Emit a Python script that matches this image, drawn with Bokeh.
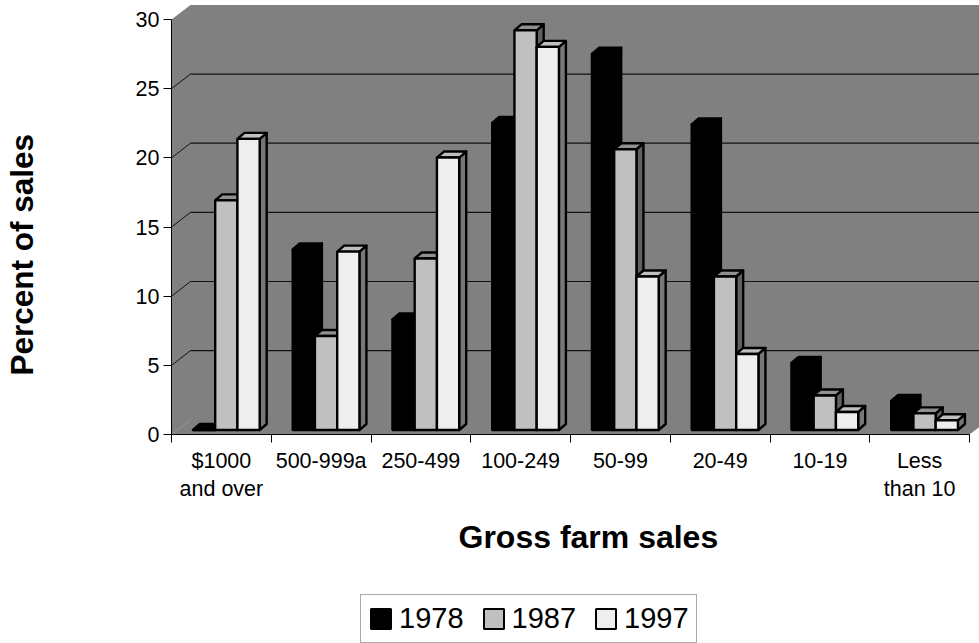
from bokeh.embed import file_html
from bokeh.layouts import column
from bokeh.models import FixedTicker, Legend, LegendItem, LinearAxis, Range1d, Title
from bokeh.plotting import figure
from bokeh.resources import INLINE

# Gross farm sales classes and share of sales (percent) by census year
categories = ["$1000\nand over", "500-999a", "250-499", "100-249", "50-99", "20-49", "10-19", "Less\nthan 10"]
sales_1978 = [0.0, 13.05, 8.0, 22.2, 27.2, 22.1, 4.85, 2.1]
sales_1987 = [16.6, 6.8, 12.4, 28.9, 20.3, 11.1, 2.5, 1.2]
sales_1997 = [21.05, 12.9, 19.7, 27.7, 11.1, 5.5, 1.3, 0.7]
y_ticks = [0, 5, 10, 15, 20, 25, 30]
series_names = ["1978", "1987", "1997"]
series_fronts = ["#000000", "#c0c0c0", "#eeeeee"]

FONT = "Liberation Sans"
FRAME_W, FRAME_H = 808, 430
UNIT_X, UNIT_Y = 99.75, 13.83          # pixels per category, pixels per percent
WALL_DX, WALL_DY = 19 / UNIT_X, 14.7 / UNIT_Y   # oblique offset of the back wall
BAR_DX, BAR_DY = 7 / UNIT_X, 6 / UNIT_Y         # oblique depth of a bar
BAR_BASE = 4.5 / UNIT_Y                # bars stand slightly behind the front edge
GROUP_LEFT, BAR_W = 0.215, 0.223
CHART_H, LEGEND_H = 590, 53
OUTLINE = 2.4

p = figure(
    width=979, height=CHART_H, output_backend="svg", toolbar_location=None,
    x_range=Range1d(0, FRAME_W / UNIT_X), y_range=Range1d(0, FRAME_H / UNIT_Y),
    frame_width=FRAME_W, frame_height=FRAME_H,
    min_border_left=171, min_border_right=0, min_border_top=4, min_border_bottom=156,
    x_axis_type=None, y_axis_type=None,
)
p.grid.visible = False
p.outline_line_color = None
p.background_fill_color = "white"
p.border_fill_color = "white"

n = len(categories)
top = y_ticks[-1]

# Back wall and floor seen in oblique projection
p.patch(
    [0, 0, WALL_DX, n + WALL_DX, n + WALL_DX, n],
    [0, top, top + WALL_DY, top + WALL_DY, WALL_DY, 0],
    fill_color="#808080", line_color=None,
)
p.segment([0], [0], [WALL_DX], [WALL_DY], line_color="#969696", line_width=1)

# Gridlines: a slanted stub on the side wall, then along the back wall
inner = y_ticks[1:-1]
p.segment([0] * len(inner), inner, [WALL_DX] * len(inner), [v + WALL_DY for v in inner],
          line_color="#111111", line_width=1)
p.segment([WALL_DX] * len(inner), [v + WALL_DY for v in inner],
          [n + WALL_DX] * len(inner), [v + WALL_DY for v in inner],
          line_color="#111111", line_width=1.2)


def draw_series(values, slot, front, roof, side):
    lefts = [i + GROUP_LEFT + slot * BAR_W for i in range(n)]
    rights = [x + BAR_W for x in lefts]
    tops = [BAR_BASE + v for v in values]
    bases = [BAR_BASE] * n
    p.patches(
        [[r, r + BAR_DX, r + BAR_DX, r] for r in rights],
        [[b, b + BAR_DY, t + BAR_DY, t] for b, t in zip(bases, tops)],
        fill_color=side, line_color="black", line_width=OUTLINE, line_join="round",
    )
    p.patches(
        [[l, l + BAR_DX, r + BAR_DX, r] for l, r in zip(lefts, rights)],
        [[t, t + BAR_DY, t + BAR_DY, t] for t in tops],
        fill_color=roof, line_color="black", line_width=OUTLINE, line_join="round",
    )
    p.quad(
        left=lefts, right=rights, bottom=bases, top=tops,
        fill_color=front, line_color="black", line_width=OUTLINE,
    )


draw_series(sales_1978, 0, series_fronts[0], "#000000", "#000000")
draw_series(sales_1987, 1, series_fronts[1], "#909090", "#606060")
draw_series(sales_1997, 2, series_fronts[2], "#c0c0c0", "#777777")

# Value axis
y_axis = LinearAxis(
    ticker=FixedTicker(ticks=y_ticks), bounds=(0, top),
    major_label_text_font=FONT, major_label_text_font_size="21.5px", major_label_text_color="black",
    major_label_standoff=4,
    major_tick_in=0, major_tick_out=8, minor_tick_in=0, minor_tick_out=0,
    major_tick_line_color="black", axis_line_color="black",
)
p.add_layout(y_axis, "left")

# Category axis: ticks mark the class boundaries, labels sit between them
centers = [i + 0.5 for i in range(n)]
x_axis = LinearAxis(
    ticker=FixedTicker(ticks=centers, minor_ticks=list(range(n + 1))), bounds=(0, n),
    major_label_overrides={c: label for c, label in zip(centers, categories)},
    major_label_text_font=FONT, major_label_text_font_size="21.5px", major_label_text_color="black",
    major_label_standoff=6, major_label_orientation="horizontal",
    major_tick_in=0, major_tick_out=0, minor_tick_in=0, minor_tick_out=8,
    minor_tick_line_color="black", axis_line_color="black",
)
p.add_layout(x_axis, "below")

# Blank title that only reserves room between the value labels and the axis title
p.add_layout(Title(text=" ", standoff=90, text_font_size="1px"), "left")

# Axis titles sit off-centre relative to the plotting frame
y_title = Title(text="Percent of sales", align="left", offset=59, standoff=0,
                text_font=FONT, text_font_size="31.5px", text_font_style="bold", text_color="black")
p.add_layout(y_title, "left")
x_title = Title(text="Gross farm sales", align="left", offset=287, standoff=24,
                text_font=FONT, text_font_size="32px", text_font_style="bold", text_color="black")
p.add_layout(x_title, "below")

# Series key in its own strip beneath the chart, laid out on the same left edge
key = figure(
    width=979, height=LEGEND_H, output_backend="svg", toolbar_location=None,
    x_range=Range1d(0, 1), y_range=Range1d(0, 1),
    frame_width=FRAME_W, frame_height=LEGEND_H,
    min_border_left=171, min_border_right=0, min_border_top=0, min_border_bottom=0,
    x_axis_type=None, y_axis_type=None,
)
key.grid.visible = False
key.outline_line_color = None
key.background_fill_color = "white"
key.border_fill_color = "white"
swatches = [
    key.quad(left=[2], right=[3], top=[3], bottom=[2], fill_color=c, line_color="black", line_width=2)
    for c in series_fronts
]
legend = Legend(
    items=[LegendItem(label=name, renderers=[r]) for name, r in zip(series_names, swatches)],
    orientation="horizontal", location=(189, 0),
    glyph_width=25, glyph_height=25, label_standoff=6, spacing=17, padding=7, margin=0,
    label_text_font=FONT, label_text_font_size="29px", label_text_color="black",
    label_text_line_height=1.12,
    border_line_color="#555555", border_line_width=1.5,
    background_fill_color="white", background_fill_alpha=1,
)
key.add_layout(legend, "center")

open("out.html", "w").write(file_html(column(p, key, spacing=0), INLINE))
